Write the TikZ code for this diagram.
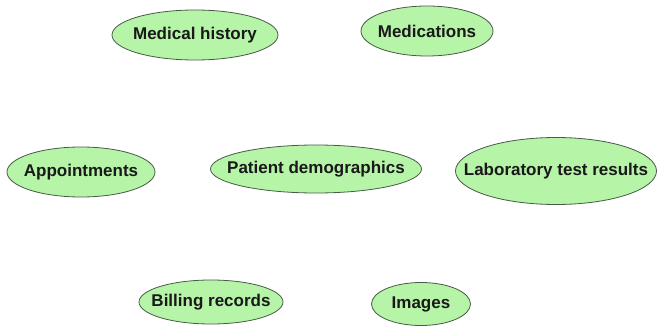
\documentclass[tikz,border=0pt]{standalone}
\usepackage{fontspec}
\setmainfont{Liberation Sans}
\usetikzlibrary{shapes.geometric}
\definecolor{ellfill}{RGB}{182,244,168}
\definecolor{elldraw}{RGB}{70,90,70}
\tikzset{
  ent/.style={ellipse, draw=elldraw, fill=ellfill, line width=0.8pt, inner sep=0pt},
  lbl/.style={inner sep=0pt, font=\bfseries\fontsize{17}{19}\selectfont, text=black!90}
}
\begin{document}
\begin{tikzpicture}[x=1pt,y=-1pt]
\useasboundingbox (0,0) rectangle (657,326);
\node[ent, minimum width=166, minimum height=50] (mh) at (195,35) {};
\node[lbl] (mht) at (mh) {Medical history};
\node[ent, minimum width=132, minimum height=50] (med) at (427,31) {};
\node[lbl] (medt) at (med) {Medications};
\node[ent, minimum width=148, minimum height=50] (app) at (81,172) {};
\node[lbl] (appt) at (app) {Appointments};
\node[ent, minimum width=211, minimum height=48] (pd) at (316,169) {};
\node[lbl] (pdt) at (pd) {Patient demographics};
\node[ent, minimum width=201, minimum height=67] (lab) at (556,171) {};
\node[lbl] (labt) at (lab) {Laboratory test results};
\node[ent, minimum width=144, minimum height=44] (bill) at (211,302) {};
\node[lbl] (billt) at (bill) {Billing records};
\node[ent, minimum width=99, minimum height=43] (img) at (421,304) {};
\node[lbl] (imgt) at (img) {Images};
\end{tikzpicture}
\end{document}
